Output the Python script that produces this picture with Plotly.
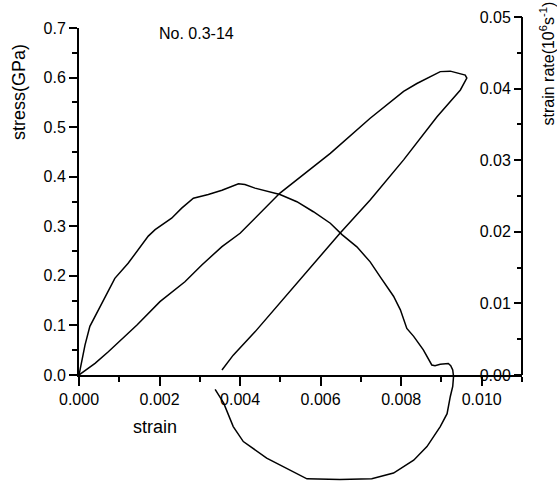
import plotly.graph_objects as go

# stress-strain loop (strain, stress in GPa)
stress_strain = [0.0, 0.000398, 0.000728, 0.00144, 0.00201, 0.00263, 0.00305, 0.00355, 0.0040, 0.00437,
                 0.00499, 0.00624, 0.00723, 0.00806, 0.00839, 0.00897, 0.00922, 0.00959,
                 0.00963, 0.00947, 0.00889, 0.00806, 0.00723, 0.00648, 0.00491, 0.00437, 0.00383, 0.00355]
stress_vals = [0.0, 0.0236, 0.047, 0.1009, 0.148, 0.188, 0.222, 0.259, 0.286, 0.316,
               0.367, 0.447, 0.518, 0.572, 0.588, 0.612, 0.613, 0.605,
               0.599, 0.575, 0.521, 0.434, 0.353, 0.286, 0.138, 0.087, 0.040, 0.010]

# strain rate curve (strain, strain rate in 10^6 s^-1)
rate_strain = [0.0, 0.000025, 0.00015, 0.00027, 0.00048, 0.00073, 0.00089, 0.00122, 0.00147, 0.00172,
               0.00189, 0.00230, 0.00255, 0.00284, 0.00321, 0.00355, 0.00396, 0.00412, 0.00437,
               0.00499, 0.00541, 0.00582, 0.00624, 0.00653, 0.00690, 0.00723, 0.00748, 0.00781,
               0.00798, 0.00814, 0.00831, 0.00855, 0.00876, 0.00884, 0.00897, 0.00917, 0.00923,
               0.00928, 0.00930, 0.00928, 0.00922, 0.00914, 0.00897, 0.00864, 0.00831, 0.00781,
               0.00727, 0.00648, 0.00566, 0.00516, 0.00466, 0.00408, 0.00383, 0.00359, 0.00342, 0.00338]
rate_vals = [0.0, 0.0007, 0.0042, 0.0068, 0.0091, 0.0119, 0.0135, 0.0156, 0.0175, 0.0194,
             0.0203, 0.0219, 0.0233, 0.0247, 0.0252, 0.0258, 0.0267, 0.0266, 0.0261,
             0.0252, 0.0242, 0.0228, 0.0212, 0.0196, 0.0179, 0.0158, 0.0137, 0.0110,
             0.0091, 0.0065, 0.0054, 0.0035, 0.0014, 0.0013, 0.0015, 0.0016, 0.0013,
             0.0007, -0.0002, -0.0016, -0.0030, -0.0054, -0.0072, -0.0100, -0.0119, -0.0137,
             -0.0145, -0.0146, -0.0145, -0.0131, -0.0116, -0.0093, -0.0072, -0.0039, -0.0023, -0.0020]

x_ticks = [0.000, 0.002, 0.004, 0.006, 0.008, 0.010]
x_minor = [0.001, 0.003, 0.005, 0.007, 0.009, 0.011]
y_ticks = [0.0, 0.1, 0.2, 0.3, 0.4, 0.5, 0.6, 0.7]
y_minor = [0.05, 0.15, 0.25, 0.35, 0.45, 0.55, 0.65]
y2_ticks = [0.00, 0.01, 0.02, 0.03, 0.04, 0.05]
y2_minor = [0.005, 0.015, 0.025, 0.035, 0.045]

W, H = 557, 483
L, R, T, B = 79, 35, 0, 0
FONT = "Liberation Sans, Arial, sans-serif"

def px_x(p):
    return (p - L) / (W - L - R)

def px_y(p):
    return (H - p) / H

# pixel scale for strain rate axis: 0 at 375px, 0.05 at 17px
scale2 = (375 - 17) / 0.05
y2_range = [-(H - 375) / scale2, 0.05 + 17 / scale2]

fig = go.Figure()
fig.add_trace(go.Scatter(x=stress_strain, y=stress_vals, mode="lines",
                         line=dict(color="black", width=1.5), yaxis="y", showlegend=False))
fig.add_trace(go.Scatter(x=rate_strain, y=rate_vals, mode="lines",
                         line=dict(color="black", width=1.5), yaxis="y2", showlegend=False))

fig.update_layout(
    width=W, height=H,
    margin=dict(l=L, r=R, t=T, b=B, autoexpand=False),
    paper_bgcolor="white", plot_bgcolor="rgba(0,0,0,0)",
    font=dict(family=FONT, color="black", size=16),
    xaxis=dict(range=[0, 0.011], domain=[0, 1], anchor="y",
               showline=True, linecolor="black", linewidth=2,
               showgrid=False, zeroline=False,
               tickmode="array", tickvals=x_ticks, ticktext=[f"{v:.3f}" for v in x_ticks],
               ticks="outside", ticklen=9, tickwidth=2, tickcolor="black",
               tickfont=dict(size=16, family=FONT),
               minor=dict(tickmode="array", tickvals=x_minor, ticks="outside", ticklen=5,
                          tickwidth=2, tickcolor="black")),
    yaxis=dict(range=[0, 0.7], domain=[px_y(375), px_y(28)], anchor="x",
               showline=True, linecolor="black", linewidth=2,
               showgrid=False, zeroline=False,
               tickmode="array", tickvals=y_ticks, ticktext=[f"{v:.1f}" for v in y_ticks],
               ticks="outside", ticklen=8, tickwidth=2, tickcolor="black",
               tickfont=dict(size=16, family=FONT),
               minor=dict(tickmode="array", tickvals=y_minor, ticks="outside", ticklen=5,
                          tickwidth=2, tickcolor="black")),
    # right-hand strain-rate axis: placed at the right edge, ticks/labels facing the plot
    yaxis2=dict(range=y2_range, domain=[0, 1], anchor="free", position=1, side="left",
                showline=False, showgrid=False, zeroline=False,
                tickmode="array", tickvals=y2_ticks, ticktext=[f"{v:.2f}" for v in y2_ticks],
                ticks="outside", ticklen=8, tickwidth=2, tickcolor="black",
                tickfont=dict(size=16, family=FONT),
                minor=dict(tickmode="array", tickvals=y2_minor, ticks="outside", ticklen=5,
                           tickwidth=2, tickcolor="black")),
    shapes=[dict(type="line", xref="paper", yref="y2", x0=1, x1=1, y0=0, y1=0.05,
                 line=dict(color="black", width=2))],
    annotations=[
        dict(text="stress(GPa)", xref="paper", yref="paper", x=px_x(19), y=px_y(92),
             textangle=-90, showarrow=False, xanchor="center", yanchor="middle",
             font=dict(size=18, family=FONT)),
        dict(text="strain", xref="paper", yref="paper", x=px_x(154.5), y=px_y(427),
             showarrow=False, xanchor="center", yanchor="middle",
             font=dict(size=18, family=FONT)),
        dict(text="No. 0.3-14", xref="paper", yref="paper", x=px_x(196.5), y=px_y(34),
             showarrow=False, xanchor="center", yanchor="middle",
             font=dict(size=16, family=FONT)),
        dict(text="strain rate(10<sup>6</sup>s<sup>-1</sup>)", xref="paper", yref="paper",
             x=px_x(547.5), y=px_y(64),
             textangle=-90, showarrow=False, xanchor="center", yanchor="middle",
             font=dict(size=16, family=FONT)),
    ],
)

fig.write_html("out.html", config={"displayModeBar": False},
               post_script="document.body.style.margin='0';")
